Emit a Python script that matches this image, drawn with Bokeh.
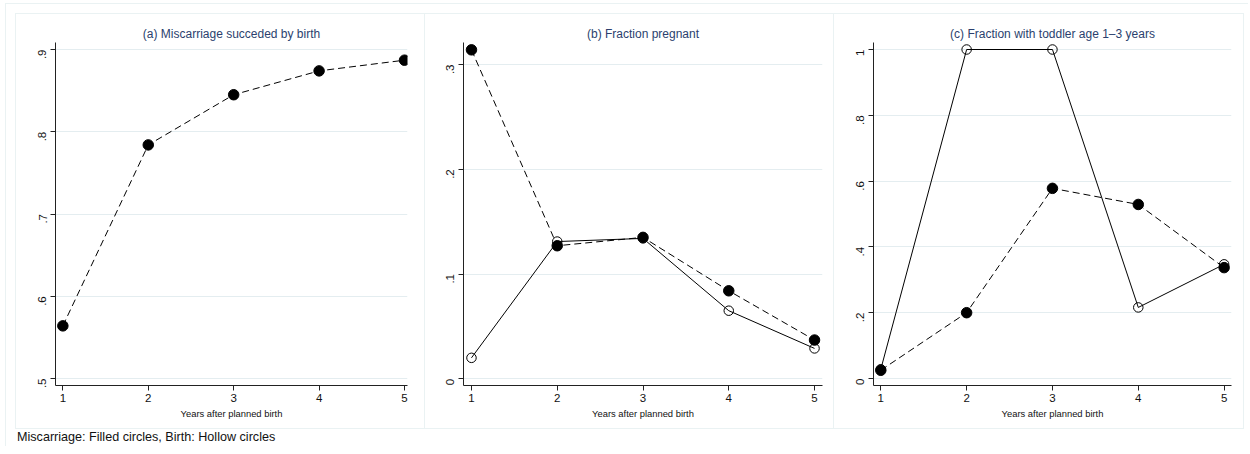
import math
from bokeh.plotting import figure
from bokeh.layouts import row, column
from bokeh.models import Div, FixedTicker, CustomJSTickFormatter, Range1d, Spacer
from bokeh.embed import file_html
from bokeh.resources import INLINE

# ---- data ----
years = [1, 2, 3, 4, 5]
a_miscarriage = [0.564, 0.784, 0.845, 0.874, 0.887]
b_miscarriage = [0.314, 0.127, 0.135, 0.084, 0.037]
b_birth = [0.020, 0.131, 0.134, 0.065, 0.029]
c_miscarriage = [0.025, 0.200, 0.578, 0.529, 0.337]
c_birth = [0.028, 1.000, 1.000, 0.216, 0.347]

panel_titles = ["(a) Miscarriage succeded by birth",
                "(b) Fraction pregnant",
                "(c) Fraction with toddler age 1\u20133 years"]
x_ticks = [1, 2, 3, 4, 5]
y_ticks_a = [0.5, 0.6, 0.7, 0.8, 0.9]
y_ticks_b = [0.0, 0.1, 0.2, 0.3]
y_ticks_c = [0.0, 0.2, 0.4, 0.6, 0.8, 1.0]
x_label = "Years after planned birth"
footer_text = "Miscarriage: Filled circles, Birth: Hollow circles"

FONT = "Liberation Sans"
BOX = "#eaf2f3"
GRID = "#e4edf0"
TITLE_COLOR = "#2b3f6e"

fmt = CustomJSTickFormatter(code="""
if (Math.abs(tick) < 1e-9) return "0";
if (Math.abs(tick - 1) < 1e-9) return "1";
var s = tick.toFixed(1);
return s.replace(/^0\\./, ".");
""")


def make_panel(title, width, height, xr, yr, yticks, bl, br, bt, bb):
    p = figure(width=width, height=height, x_range=Range1d(*xr), y_range=Range1d(*yr),
               output_backend="svg", toolbar_location=None,
               min_border_left=bl, min_border_right=br, min_border_top=bt, min_border_bottom=bb)
    p.background_fill_color = "white"
    p.border_fill_color = "white"
    p.outline_line_color = None
    p.title.text = title
    p.title.align = "center"
    p.title.text_font = FONT
    p.title.text_font_size = "12px"
    p.title.text_font_style = "normal"
    p.title.text_color = TITLE_COLOR
    p.title.standoff = 3

    p.xgrid.grid_line_color = None
    p.ygrid.grid_line_color = GRID
    p.ygrid.grid_line_width = 1

    p.xaxis.ticker = FixedTicker(ticks=x_ticks)
    p.yaxis.ticker = FixedTicker(ticks=yticks)
    p.yaxis.formatter = fmt
    p.yaxis.major_label_orientation = math.pi / 2
    for ax in (p.xaxis, p.yaxis):
        ax.axis_line_color = "#222222"
        ax.axis_line_width = 1
        ax.major_tick_line_color = "#222222"
        ax.major_tick_in = 0
        ax.major_tick_out = 5
        ax.minor_tick_line_color = None
        ax.major_label_text_font = FONT
        ax.major_label_text_font_size = "11.5px"
        ax.major_label_text_color = "#111111"
    p.xaxis.major_label_standoff = 3
    p.yaxis.major_label_standoff = 8
    p.xaxis.axis_label = x_label
    p.xaxis.axis_label_text_font = FONT
    p.xaxis.axis_label_text_font_size = "9.4px"
    p.xaxis.axis_label_text_font_style = "normal"
    p.xaxis.axis_label_text_color = "#111111"
    p.xaxis.axis_label_standoff = 3
    return p


def add_series(p, ys, filled):
    if filled:
        p.line(years, ys, line_color="black", line_width=1, line_dash="7 4")
        p.scatter(years, ys, size=10.5, marker="circle", fill_color="black", line_color="black")
    else:
        p.line(years, ys, line_color="black", line_width=1)
        p.scatter(years, ys, size=9.5, marker="circle", fill_color=None,
                  line_color="black", line_width=1)


pa = make_panel(panel_titles[0], 408, 414, (0.914, 5.035), (0.4915, 0.9085), y_ticks_a, 39, 17, 28, 43)
add_series(pa, a_miscarriage, True)

pb = make_panel(panel_titles[1], 408, 414, (0.907, 5.093), (-0.0064, 0.321), y_ticks_b, 38, 11, 28, 43)
add_series(pb, b_miscarriage, True)
add_series(pb, b_birth, False)

pc = make_panel(panel_titles[2], 409, 414, (0.915, 5.086), (-0.0213, 1.0213), y_ticks_c, 39, 12, 28, 43)
add_series(pc, c_miscarriage, True)
add_series(pc, c_birth, False)


def hl(w):
    return Spacer(width=w, height=1, margin=0, styles={"background-color": BOX})


def vl(h):
    return Spacer(width=1, height=h, margin=0, styles={"background-color": BOX})


def gap(w, h):
    return Spacer(width=w, height=h, margin=0)


PW = 1 + 408 + 1 + 408 + 1 + 409 + 1
panels_row = row(vl(414), pa, vl(414), pb, vl(414), pc, vl(414), spacing=0, margin=0)
panels_block = column(hl(PW), panels_row, hl(PW), spacing=0, margin=0)
footer = Div(text=footer_text, width=PW, height=17, margin=0,
             styles={"font-family": FONT, "font-size": "12.6px", "color": "#111111",
                     "line-height": "16px", "padding-left": "2px"})
content = column(gap(PW, 9), panels_block, footer, spacing=0, margin=0)
CH = 9 + 416 + 17
boxed = column(hl(1243), row(vl(CH), gap(9, CH), content, spacing=0, margin=0),
               spacing=0, margin=0)
page = row(gap(5, CH + 4), column(gap(1243, 3), boxed, spacing=0, margin=0),
           spacing=0, margin=0)

open("out.html", "w").write(file_html(page, INLINE))
